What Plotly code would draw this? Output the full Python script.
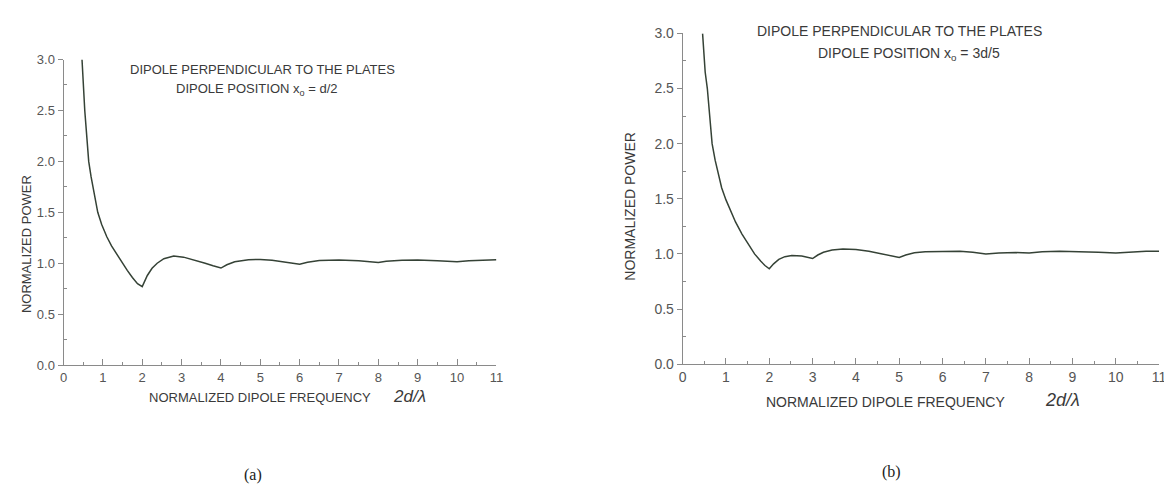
import plotly.graph_objects as go

# ---- data ----
xa = [0.47, 0.50, 0.54, 0.59, 0.64, 0.70, 0.78, 0.87, 0.97, 1.10, 1.22, 1.35, 1.50,
      1.62, 1.75, 1.88, 2.00, 2.06, 2.13, 2.25, 2.38, 2.55, 2.80, 3.05, 3.31, 3.60, 3.80,
      4.00, 4.15, 4.35, 4.70, 5.00, 5.30, 5.60, 6.00, 6.20, 6.50, 7.00, 7.50, 8.00, 8.20,
      8.60, 9.00, 9.50, 10.00, 10.30, 10.70, 11.00]
ya = [3.00, 2.75, 2.50, 2.25, 2.00, 1.85, 1.68, 1.50, 1.38, 1.26, 1.17, 1.09, 1.00,
      0.93, 0.86, 0.80, 0.77, 0.82, 0.88, 0.95, 1.00, 1.045, 1.072, 1.06, 1.035, 1.00, 0.975,
      0.953, 0.985, 1.015, 1.035, 1.037, 1.03, 1.01, 0.99, 1.01, 1.027, 1.032, 1.025, 1.008, 1.02,
      1.03, 1.032, 1.025, 1.015, 1.025, 1.033, 1.035]

xb = [0.46, 0.49, 0.52, 0.57, 0.62, 0.68, 0.75, 0.83, 0.90, 1.00, 1.10, 1.22, 1.37,
      1.52, 1.66, 1.80, 1.90, 2.00, 2.10, 2.22, 2.36, 2.52, 2.75, 3.00, 3.12, 3.25, 3.45,
      3.70, 4.00, 4.30, 4.60, 5.00, 5.15, 5.35, 5.60, 6.00, 6.40, 6.70, 7.00, 7.30, 7.70,
      8.00, 8.30, 8.70, 9.20, 9.60, 10.00, 10.30, 10.70, 11.00]
yb = [3.00, 2.80, 2.65, 2.50, 2.25, 2.00, 1.85, 1.70, 1.60, 1.49, 1.40, 1.29, 1.18,
      1.08, 1.00, 0.935, 0.895, 0.865, 0.91, 0.95, 0.975, 0.985, 0.98, 0.958, 0.99, 1.015, 1.035,
      1.045, 1.04, 1.025, 1.00, 0.967, 0.99, 1.01, 1.02, 1.025, 1.025, 1.015, 1.00, 1.008, 1.012,
      1.008, 1.02, 1.025, 1.022, 1.015, 1.008, 1.018, 1.025, 1.025]

x_ticks = list(range(0, 12))
y_ticks = [0.0, 0.5, 1.0, 1.5, 2.0, 2.5, 3.0]
y_ticklabels = ["0.0", "0.5", "1.0", "1.5", "2.0", "2.5", "3.0"]

title_top = "DIPOLE PERPENDICULAR TO THE PLATES"
pos_a = "DIPOLE POSITION x<sub>o</sub> = d/2"
pos_b = "DIPOLE POSITION x<sub>o</sub> = 3d/5"
x_title = "NORMALIZED DIPOLE FREQUENCY"
x_sym = "2d/\u03bb"
y_title = "NORMALIZED POWER"

W, H = 1172, 486
LINE = "#354236"
AX = "#8a8a8a"
TXT = "#3a3a3a"
TICKTXT = "#555555"
SANS = "Liberation Sans, Arial, sans-serif"
SERIF = "Liberation Serif, Times New Roman, serif"

fig = go.Figure()
fig.add_trace(go.Scatter(x=xa, y=ya, mode="lines", line=dict(color=LINE, width=1.5),
                         xaxis="x", yaxis="y", showlegend=False, hoverinfo="skip"))
fig.add_trace(go.Scatter(x=xb, y=yb, mode="lines", line=dict(color=LINE, width=1.5),
                         xaxis="x2", yaxis="y2", showlegend=False, hoverinfo="skip"))

def px(x):
    return x / W

def py(y):
    return 1 - y / H

def xaxis(dom, anchor, size):
    return dict(domain=dom, anchor=anchor, range=[0, 11], tickvals=x_ticks,
                ticktext=[str(v) for v in x_ticks], ticks="inside", ticklen=6,
                tickcolor=AX, tickwidth=1, showline=True, linecolor=AX, linewidth=1,
                showgrid=False, zeroline=False, mirror=False,
                tickfont=dict(family=SANS, size=size, color=TICKTXT),
                minor=dict(tickvals=[v + 0.5 for v in x_ticks[:-1]], ticks="inside",
                           ticklen=3, tickcolor=AX, tickwidth=1, showgrid=False),
                fixedrange=True)

def yaxis(dom, anchor, size):
    return dict(domain=dom, anchor=anchor, range=[0, 3], tickvals=y_ticks,
                ticktext=y_ticklabels, ticks="outside", ticklen=5,
                tickcolor=AX, tickwidth=1, showline=True, linecolor=AX, linewidth=1,
                showgrid=False, zeroline=False,
                tickfont=dict(family=SANS, size=size, color=TICKTXT),
                minor=dict(tickvals=[0.25, 0.75, 1.25, 1.75, 2.25, 2.75], ticks="inside",
                           ticklen=3, tickcolor=AX, tickwidth=1, showgrid=False),
                fixedrange=True)

fig.update_layout(
    width=W, height=H,
    margin=dict(l=0, r=0, t=0, b=0),
    paper_bgcolor="white", plot_bgcolor="white",
    xaxis=xaxis([px(52), px(489)], "y", 13),
    yaxis=yaxis([py(361), py(45)], "x", 13),
    xaxis2=xaxis([px(677), px(1158)], "y2", 14),
    yaxis2=yaxis([py(360), py(18)], "x2", 14),
)

def ann(text, x, y, size, family=SANS, italic=False, angle=0, color=TXT):
    if italic:
        text = "<i>" + text + "</i>"
    fig.add_annotation(text=text, x=px(x), y=py(y), xref="paper", yref="paper",
                       showarrow=False, xanchor="center", yanchor="middle",
                       textangle=angle, font=dict(family=family, size=size, color=color))

# panel (a)
ann(title_top, 253, 55, 13)
ann(pos_a, 247, 76, 13)
ann(x_title, 250, 394, 13)
ann(x_sym, 401, 393, 17, italic=True)
ann(y_title, 14, 236, 13, angle=-90)
ann("(a)", 243, 475, 16, family=SERIF, color="#222222")

# panel (b)
ann(title_top, 896, 15, 14)
ann(pos_b, 905, 39, 14)
ann(x_title, 882, 399, 14)
ann(x_sym, 1060, 397, 18, italic=True)
ann(y_title, 623, 197, 14, angle=-90)
ann("(b)", 888, 472, 16, family=SERIF, color="#222222")

fig.write_html("out.html")
